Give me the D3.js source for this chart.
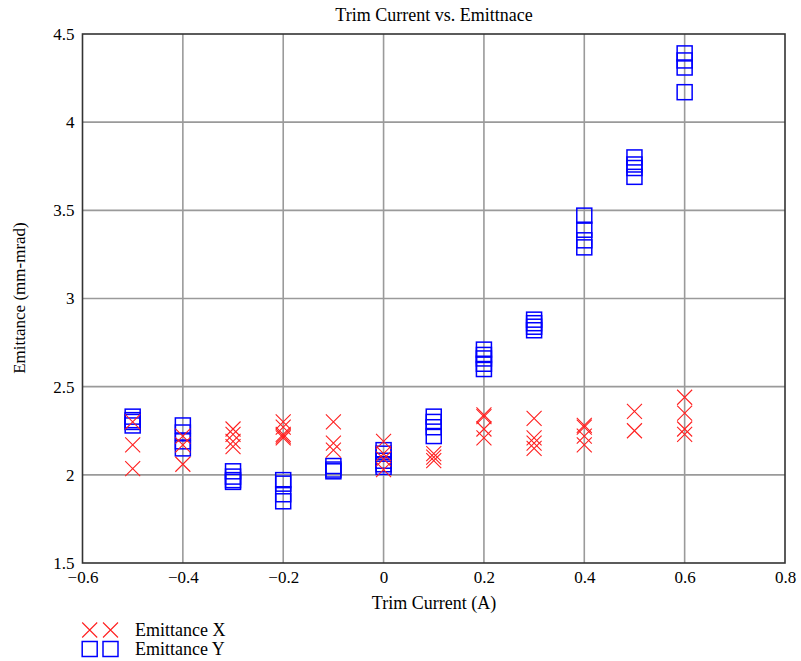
<!DOCTYPE html>
<html>
<head>
<meta charset="utf-8">
<script src="https://cdn.jsdelivr.net/npm/d3@7"></script>
<style>
  html, body { margin: 0; padding: 0; background: #fff; }
  svg { display: block; }
  text { font-family: "Liberation Serif", "Times New Roman", serif; fill: #000; }
</style>
</head>
<body>
<svg id="chart" width="801" height="661"></svg>
<script>
// Trim current settings (A)
const currents = [-0.5, -0.4, -0.3, -0.2, -0.1, 0.0, 0.1, 0.2, 0.3, 0.4, 0.5, 0.6];

// Measured horizontal emittance (mm-mrad), several shots per setting
const emittanceX = [
  [2.30, 2.17, 2.035],
  [2.22, 2.17, 2.06],
  [2.26, 2.23, 2.19, 2.16],
  [2.30, 2.27, 2.23, 2.22, 2.21],
  [2.30, 2.18, 2.14],
  [2.19, 2.12, 2.09, 2.03],
  [2.12, 2.10, 2.08],
  [2.34, 2.33, 2.26, 2.21],
  [2.32, 2.21, 2.18, 2.15],
  [2.28, 2.27, 2.22, 2.17],
  [2.36, 2.25],
  [2.44, 2.35, 2.26, 2.23]
];

// Measured vertical emittance (mm-mrad)
const emittanceY = [
  [2.33, 2.31, 2.30, 2.28],
  [2.28, 2.24, 2.19, 2.15],
  [2.02, 1.99, 1.97, 1.96],
  [1.97, 1.95, 1.89, 1.85],
  [2.05, 2.03, 2.02],
  [2.14, 2.12, 2.08, 2.06, 2.045],
  [2.33, 2.30, 2.27, 2.22],
  [2.71, 2.68, 2.66, 2.63, 2.60],
  [2.88, 2.86, 2.84, 2.82],
  [3.47, 3.39, 3.33, 3.29],
  [3.80, 3.76, 3.74, 3.69],
  [4.39, 4.35, 4.31, 4.17]
];

const xTicks = [-0.6, -0.4, -0.2, 0, 0.2, 0.4, 0.6, 0.8];
const yTicks = [1.5, 2, 2.5, 3, 3.5, 4, 4.5];
const seriesNames = ["Emittance X", "Emittance Y"];
const titleText = "Trim Current vs. Emittnace";
const xLabel = "Trim Current (A)";
const yLabel = "Emittance (mm-mrad)";

const svg = d3.select("#chart");
const plot = { left: 82.5, right: 785, top: 34, bottom: 563 };

const x = d3.scaleLinear().domain([-0.6, 0.8]).range([plot.left, plot.right]);
const y = d3.scaleLinear().domain([1.5, 4.5]).range([plot.bottom, plot.top]);

const fmt = v => {
  const s = d3.format("~g")(Math.abs(v));
  return (v < 0 ? "\u2212" : "") + s;
};

// grid lines
const grid = svg.append("g").attr("stroke", "#9a9a9a").attr("stroke-width", 1.6);
grid.selectAll("line.vx").data(xTicks.slice(1, -1)).join("line")
  .attr("x1", d => x(d)).attr("x2", d => x(d))
  .attr("y1", plot.top).attr("y2", plot.bottom);
grid.selectAll("line.hy").data(yTicks.slice(1, -1)).join("line")
  .attr("x1", plot.left).attr("x2", plot.right)
  .attr("y1", d => y(d)).attr("y2", d => y(d));

// axes (labels only, frame drawn separately)
const xAxis = d3.axisBottom(x).tickValues(xTicks).tickFormat(fmt).tickSize(0).tickPadding(8);
const gx = svg.append("g").attr("transform", `translate(0,${plot.bottom})`).call(xAxis);
gx.select(".domain").remove();
gx.selectAll("text").attr("font-size", 17).attr("font-family", "Liberation Serif");

const yAxis = d3.axisLeft(y).tickValues(yTicks).tickFormat(fmt).tickSize(0).tickPadding(8);
const gy = svg.append("g").attr("transform", `translate(${plot.left},0)`).call(yAxis);
gy.select(".domain").remove();
gy.selectAll("text").attr("font-size", 17).attr("font-family", "Liberation Serif");

// plot frame
svg.append("rect")
  .attr("x", plot.left).attr("y", plot.top)
  .attr("width", plot.right - plot.left).attr("height", plot.bottom - plot.top)
  .attr("fill", "none").attr("stroke", "#333").attr("stroke-width", 1.6);

// flatten series into points
const ptsX = currents.flatMap((c, i) => emittanceX[i].map(v => ({ c, v })));
const ptsY = currents.flatMap((c, i) => emittanceY[i].map(v => ({ c, v })));

const half = 7.5;
const crossPath = (cx, cy) =>
  `M${cx - half},${cy - half}L${cx + half},${cy + half}M${cx - half},${cy + half}L${cx + half},${cy - half}`;

// vertical emittance: blue squares
svg.append("g").selectAll("rect").data(ptsY).join("rect")
  .attr("x", d => x(d.c) - half).attr("y", d => y(d.v) - half)
  .attr("width", 2 * half).attr("height", 2 * half)
  .attr("fill", "none").attr("stroke", "#0000ff").attr("stroke-width", 1.5);

// horizontal emittance: red crosses
svg.append("g").selectAll("path").data(ptsX).join("path")
  .attr("d", d => crossPath(x(d.c), y(d.v)))
  .attr("fill", "none").attr("stroke", "#ff2020").attr("stroke-width", 1.1);

// title and axis labels
svg.append("text").attr("x", 434).attr("y", 21).attr("text-anchor", "middle")
  .attr("font-size", 18).text(titleText);
svg.append("text").attr("x", 434).attr("y", 609).attr("text-anchor", "middle")
  .attr("font-size", 18).text(xLabel);
svg.append("text").attr("transform", "translate(25,298) rotate(-90)")
  .attr("text-anchor", "middle").attr("font-size", 17).text(yLabel);

// legend
const legend = svg.append("g");
const legendRows = [{ name: seriesNames[0], cy: 630, kind: "x" }, { name: seriesNames[1], cy: 649, kind: "sq" }];
const legendXs = [89.7, 110.5];
legendRows.forEach(r => {
  legendXs.forEach(cx => {
    if (r.kind === "x") {
      legend.append("path").attr("d", crossPath(cx, r.cy))
        .attr("fill", "none").attr("stroke", "#ff2020").attr("stroke-width", 1.1);
    } else {
      legend.append("rect").attr("x", cx - half).attr("y", r.cy - half)
        .attr("width", 2 * half).attr("height", 2 * half)
        .attr("fill", "none").attr("stroke", "#0000ff").attr("stroke-width", 1.5);
    }
  });
  legend.append("text").attr("x", 135).attr("y", r.cy + 6).attr("font-size", 18).text(r.name);
});
</script>
</body>
</html>
